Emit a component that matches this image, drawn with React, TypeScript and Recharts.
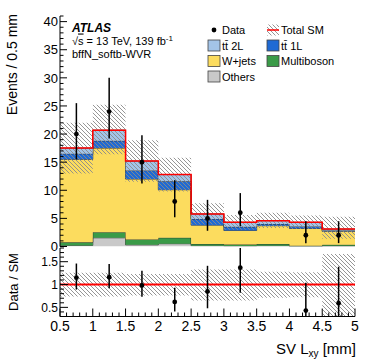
import React from 'react';
import { ComposedChart, Area, Line, Scatter, ErrorBar, XAxis, YAxis, ReferenceLine } from 'recharts';

// bins of SV Lxy [mm]
const binEdges = [0.5, 1, 1.5, 2, 2.5, 3, 3.5, 4, 4.5, 5];
const binCenters = [0.75, 1.25, 1.75, 2.25, 2.75, 3.25, 3.75, 4.25, 4.75];

// stacked backgrounds (events per bin), bottom to top
const others = [0.2, 1.55, 0.3, 0.5, 0.15, 0.1, 0.15, 0.05, 0.1];
const multiboson = [0.55, 1.0, 0.95, 1.05, 0.3, 0.25, 0.3, 0.1, 0.2];
const wjets = [14.75, 14.95, 10.75, 8.55, 3.35, 2.5, 3.25, 3.05, 2.4];
const ttbar1L = [1.0, 1.3, 1.5, 1.5, 1.1, 0.65, 0.3, 0.35, 0.15];
const ttbar2L = [1.0, 1.9, 1.7, 1.2, 0.9, 0.8, 0.6, 0.75, 0.25];
const totalSM = [17.5, 20.7, 15.2, 12.8, 5.8, 4.3, 4.6, 4.3, 3.1];
const totalLow = [13.0, 16.4, 11.5, 9.8, 3.9, 3.0, 3.3, 3.1, 1.4];
const totalHigh = [22.0, 25.2, 18.9, 15.8, 7.7, 5.6, 6.0, 5.5, 5.3];

// observed data
const dataObs: (number | null)[] = [20, 24, 15, 8, 5, 6, null, 2, 2];
const dataLow = [15.5, 19.2, 11.2, 5.2, 2.8, 3.6, 0, 0.6, 0.6];
const dataHigh = [25.5, 30.0, 19.8, 11.8, 8.3, 9.5, 0, 4.5, 4.5];

// ratio panel
const ratioObs: (number | null)[] = [1.15, 1.16, 0.98, 0.62, 0.85, 1.37, null, 0.43, 0.59];
const ratioLow = [0.89, 0.92, 0.73, 0.41, 0.48, 0.82, 0, 0.3, 0.3];
const ratioHigh = [1.46, 1.45, 1.3, 0.93, 1.41, 1.8, 0, 1.04, 1.39];
const ratioBandLow = [0.74, 0.74, 0.76, 0.76, 0.65, 0.65, 0.71, 0.72, 0.3];
const ratioBandHigh = [1.26, 1.26, 1.23, 1.23, 1.33, 1.33, 1.28, 1.27, 1.67];

// axis ticks
const xMajorTicks = [0.5, 1, 1.5, 2, 2.5, 3, 3.5, 4, 4.5, 5];
const xTickLabels = ['0.5', '1', '1.5', '2', '2.5', '3', '3.5', '4', '4.5', '5'];
const mainYMajorTicks = [0, 5, 10, 15, 20, 25, 30, 35, 40];
const mainYTickLabels = ['0', '5', '10', '15', '20', '25', '30', '35', '40'];
const ratioYMajorTicks = [0.5, 1, 1.5];
const ratioYTickLabels = ['0.5', '1', '1.5'];

const range = (a: number, b: number, step: number) => {
  const out: number[] = [];
  for (let v = a; v <= b + 1e-9; v += step) out.push(Math.round(v * 1000) / 1000);
  return out;
};
const xTicksAll = range(0.5, 5, 0.1);
const mainYTicksAll = range(0, 41, 1);
const ratioYTicksAll = range(0.3, 1.8, 0.1);

const histRows = binEdges.map((x, i) => {
  const b = Math.min(i, binCenters.length - 1);
  return {
    x,
    others: others[b],
    multiboson: multiboson[b],
    wjets: wjets[b],
    tt1L: ttbar1L[b],
    tt2L: ttbar2L[b],
    total: totalSM[b],
    unc: [totalLow[b], totalHigh[b]],
    rband: [ratioBandLow[b], ratioBandHigh[b]],
  };
});

const dataPoints = binCenters
  .map((x, i) => ({ x, y: dataObs[i], err: [(dataObs[i] ?? 0) - dataLow[i], dataHigh[i] - (dataObs[i] ?? 0)] }))
  .filter((p) => p.y !== null);

const ratioPoints = binCenters
  .map((x, i) => ({ x, y: ratioObs[i], err: [(ratioObs[i] ?? 0) - ratioLow[i], ratioHigh[i] - (ratioObs[i] ?? 0)] }))
  .filter((p) => p.y !== null);

const font = 'Liberation Sans, Arial, Helvetica, sans-serif';
const axisStyle = { stroke: '#000', strokeWidth: 1 };

const xTick = (dir: number, majorLen: number, minorLen: number, labelSize?: number, labelDy?: number) => (props: any) => {
  const { x, y, payload } = props;
  const idx = xMajorTicks.indexOf(payload.value);
  const len = idx >= 0 ? majorLen : minorLen;
  const showLabel = !!labelSize && idx >= 0;
  return (
    <g>
      <line x1={x} x2={x} y1={y} y2={y + dir * len} stroke="#000" strokeWidth={1} />
      {showLabel ? (
        <text x={x} y={y + (labelDy ?? 0)} textAnchor="middle" fontSize={labelSize} fontFamily={font} fill="#000">
          {xTickLabels[idx]}
        </text>
      ) : null}
    </g>
  );
};

const yTick = (dir: number, majors: number[], labels: string[] | null, majorLen: number, minorLen: number, labelSize = 12) => (props: any) => {
  const { x, y, payload } = props;
  const idx = majors.indexOf(payload.value);
  const len = idx >= 0 ? majorLen : minorLen;
  return (
    <g>
      <line x1={x} x2={x + dir * len} y1={y} y2={y} stroke="#000" strokeWidth={1} />
      {labels && idx >= 0 ? (
        <text x={x - 2} y={y + labelSize * 0.36} textAnchor="end" fontSize={labelSize} fontFamily={font} fill="#000">
          {labels[idx]}
        </text>
      ) : null}
    </g>
  );
};

const dot = (p: any) => <circle cx={p.cx} cy={p.cy} r={2.4} fill="#000" />;

const LegendBox = ({ x, y, fill, label }: { x: number; y: number; fill: string; label: string }) => (
  <g>
    <rect x={x} y={y - 5.5} width={12} height={11} fill={fill} stroke="#444" strokeWidth={0.8} />
    <text x={x + 14} y={y + 4} fontSize={11}>{label}</text>
  </g>
);

export default function App() {
  return (
    <div style={{ position: 'absolute', left: 0, top: 0, width: 374, height: 363, background: '#fff' }}>
      <svg width={0} height={0} style={{ position: 'absolute' }}>
        <defs>
          <pattern id="hatch" patternUnits="userSpaceOnUse" width={4} height={4}>
            <path d="M-1,-1 L5,5 M-1,3 L1,5 M3,-1 L5,1" stroke="#8a8a8a" strokeWidth={0.9} />
          </pattern>
        </defs>
      </svg>

      <div style={{ position: 'absolute', left: 0, top: 0 }}>
        <ComposedChart width={374} height={262} data={histRows} margin={{ top: 16, right: 19, bottom: 15.5, left: 0 }}>
          <XAxis dataKey="x" type="number" domain={[0.5, 5]} ticks={xTicksAll} interval={0} allowDataOverflow height={0}
            tickSize={0} tickMargin={0} axisLine={axisStyle} tickLine={false} tick={xTick(-1, 8, 4)} />
          <XAxis xAxisId="top" orientation="top" dataKey="x" type="number" domain={[0.5, 5]} ticks={xTicksAll} interval={0}
            allowDataOverflow height={0} tickSize={0} tickMargin={0} axisLine={axisStyle} tickLine={false} tick={xTick(1, 8, 4)} />
          <YAxis type="number" domain={[0, 41]} ticks={mainYTicksAll} interval={0} allowDataOverflow width={60}
            tickSize={0} tickMargin={0} axisLine={axisStyle} tickLine={false} tick={yTick(1, mainYMajorTicks, mainYTickLabels, 7, 3.5, 13)} />
          <YAxis yAxisId="right" orientation="right" type="number" domain={[0, 41]} ticks={mainYTicksAll} interval={0} allowDataOverflow width={0}
            tickSize={0} tickMargin={0} axisLine={axisStyle} tickLine={false} tick={yTick(-1, mainYMajorTicks, null, 8, 4)} />

          <Area stackId="sm" dataKey="others" type="stepAfter" fill="#c9c9c9" fillOpacity={1} stroke="#222" strokeWidth={0.8} isAnimationActive={false} />
          <Area stackId="sm" dataKey="multiboson" type="stepAfter" fill="#3a9b48" fillOpacity={1} stroke="#222" strokeWidth={0.8} isAnimationActive={false} />
          <Area stackId="sm" dataKey="wjets" type="stepAfter" fill="#fcdc5e" fillOpacity={1} stroke="#222" strokeWidth={0.8} isAnimationActive={false} />
          <Area stackId="sm" dataKey="tt1L" type="stepAfter" fill="#1f6ad4" fillOpacity={1} stroke="#222" strokeWidth={0.8} isAnimationActive={false} />
          <Area stackId="sm" dataKey="tt2L" type="stepAfter" fill="#a3c4e8" fillOpacity={1} stroke="#222" strokeWidth={0.8} isAnimationActive={false} />
          <Area dataKey="unc" type="stepAfter" fill="url(#hatch)" fillOpacity={1} stroke="none" isAnimationActive={false} />
          <Line dataKey="total" type="stepAfter" stroke="#ff0000" strokeWidth={1.5} dot={false} isAnimationActive={false} />
          <Scatter data={dataPoints} dataKey="y" fill="#000" shape={dot} isAnimationActive={false}>
            <ErrorBar dataKey="err" direction="y" width={0} stroke="#000" strokeWidth={1.5} isAnimationActive={false} />
          </Scatter>
        </ComposedChart>
      </div>

      <div style={{ position: 'absolute', left: 0, top: 247 }}>
        <ComposedChart width={374} height={116} data={histRows} margin={{ top: 1, right: 19, bottom: 16.5, left: 0 }}>
          <XAxis dataKey="x" type="number" domain={[0.5, 5]} ticks={xTicksAll} interval={0} allowDataOverflow height={30}
            tickSize={0} tickMargin={0} axisLine={axisStyle} tickLine={false} tick={xTick(-1, 8, 4, 14, 14.5)} />
          <XAxis xAxisId="top" orientation="top" dataKey="x" type="number" domain={[0.5, 5]} ticks={xTicksAll} interval={0}
            allowDataOverflow height={0} tickSize={0} tickMargin={0} axisLine={axisStyle} tickLine={false} tick={xTick(1, 8, 4)} />
          <YAxis type="number" domain={[0.3, 1.8]} ticks={ratioYTicksAll} interval={0} allowDataOverflow width={60}
            tickSize={0} tickMargin={0} axisLine={axisStyle} tickLine={false} tick={yTick(1, ratioYMajorTicks, ratioYTickLabels, 8, 4, 12)} />
          <YAxis yAxisId="right" orientation="right" type="number" domain={[0.3, 1.8]} ticks={ratioYTicksAll} interval={0} allowDataOverflow width={0}
            tickSize={0} tickMargin={0} axisLine={axisStyle} tickLine={false} tick={yTick(-1, ratioYMajorTicks, null, 8, 4)} />

          <Area dataKey="rband" type="stepAfter" fill="url(#hatch)" fillOpacity={1} stroke="none" isAnimationActive={false} />
          <ReferenceLine y={1} stroke="#ff0000" strokeWidth={2} />
          <Scatter data={ratioPoints} dataKey="y" fill="#000" shape={dot} isAnimationActive={false}>
            <ErrorBar dataKey="err" direction="y" width={0} stroke="#000" strokeWidth={1.5} isAnimationActive={false} />
          </Scatter>
        </ComposedChart>
      </div>

      <svg width={374} height={363} style={{ position: 'absolute', left: 0, top: 0, pointerEvents: 'none' }} fontFamily={font} fill="#000">
        <text transform="translate(17,14) rotate(-90)" textAnchor="end" fontSize={14}>Events / 0.5 mm</text>
        <text transform="translate(18,282) rotate(-90)" textAnchor="middle" fontSize={13}>Data / SM</text>
        <text x={356} y={354} textAnchor="end" fontSize={15}>
          SV L<tspan fontSize={10} dy={3}>xy</tspan>
          <tspan dy={-3}> [mm]</tspan>
        </text>

        <text x={72} y={32} fontSize={12} fontWeight="bold" fontStyle="italic">ATLAS</text>
        <text x={72} y={44.5} fontSize={11}>
          √<tspan style={{ textDecoration: 'overline' }}>s</tspan> = 13 TeV, 139 fb<tspan dy={-4} fontSize={8}>-1</tspan>
        </text>
        <text x={72} y={58} fontSize={11}>bffN_softb-WVR</text>

        <circle cx={214} cy={30} r={2.4} fill="#000" />
        <text x={222} y={34} fontSize={11}>Data</text>
        <rect x={267} y={24.5} width={12} height={11} fill="url(#hatch)" />
        <line x1={267} x2={279} y1={30} y2={30} stroke="#ff0000" strokeWidth={1.5} />
        <text x={281} y={34} fontSize={11}>Total SM</text>

        <LegendBox x={208} y={45.5} fill="#a3c4e8" label={'tt\u0304 2L'} />
        <LegendBox x={267} y={45.5} fill="#1f6ad4" label={'tt\u0304 1L'} />
        <LegendBox x={208} y={61} fill="#fcdc5e" label="W+jets" />
        <LegendBox x={267} y={61} fill="#3a9b48" label="Multiboson" />
        <LegendBox x={208} y={76.5} fill="#c9c9c9" label="Others" />
      </svg>
    </div>
  );
}
